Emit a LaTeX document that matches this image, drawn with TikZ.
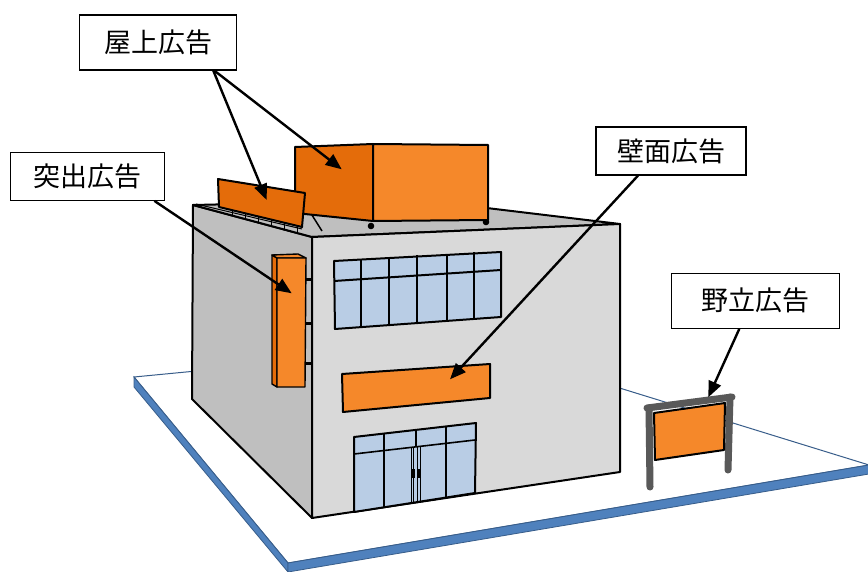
\documentclass[tikz,border=0pt]{standalone}
\usepackage{fontspec}
\newfontfamily\jp{Noto Sans CJK JP}
\usetikzlibrary{arrows.meta}
\definecolor{orA}{HTML}{F5882A}
\definecolor{orB}{HTML}{E46C0A}
\definecolor{gA}{HTML}{BFBFBF}
\definecolor{gB}{HTML}{D9D9D9}
\definecolor{glass}{HTML}{B9CDE5}
\definecolor{band}{HTML}{4F81BD}
\definecolor{bandline}{HTML}{385D8A}
\definecolor{post}{HTML}{595959}
\begin{document}
\begin{tikzpicture}[x=1pt,y=-1pt,
 edge/.style={draw=black,line width=2pt,line join=round},
 thinedge/.style={draw=black,line width=1.4pt,line join=round},
 tag/.style={draw=black,line width=1.2pt,fill=white,font=\jp\fontsize{27}{27}\selectfont,inner sep=0pt},
 pointer/.style={draw=black,line width=2.4pt,-{Triangle[length=16pt,width=13pt]}},
 postline/.style={draw=post,line width=7pt,line cap=round}]
\useasboundingbox (0,0) rectangle (868,572);
\clip (0,0) rectangle (868,572);

% platform
\filldraw[fill=white,draw=bandline,line width=1pt] (134,377) -- (477,344) -- (869,465) -- (288,563) -- cycle;
\filldraw[fill=band,draw=bandline,line width=0.8pt] (134,377) -- (288,563) -- (288,572) -- (134,387) -- cycle;
\filldraw[fill=band,draw=bandline,line width=0.8pt] (288,563) -- (869,465) -- (869,474) -- (288,572) -- cycle;

% billboard
\draw[postline] (649,408) -- (650,487);
\draw[postline] (730,397) -- (728,470);
\draw[postline] (647,408) -- (732,397);
\filldraw[fill=orA,edge] (654,413) -- (725,403) -- (724,450) -- (655,460) -- cycle;

% building
\filldraw[fill=gA,edge] (193,205) -- (312,237) -- (312,518) -- (192,399) -- cycle;
\filldraw[fill=gA,edge] (193,205) -- (420,200) -- (620,224) -- (312,237) -- cycle;
\filldraw[fill=gB,edge] (312,237) -- (620,224) -- (620,472) -- (312,518) -- cycle;

% strut
\draw[line width=1.5pt] (305,204) -- (322,231);

% big rooftop box
\fill (371,226) circle (3.3);
\fill (486,222) circle (3.3);
\filldraw[fill=orB,edge] (295,147) -- (373,144) -- (373,221) -- (295,213) -- cycle;
\filldraw[fill=orA,edge] (373,144) -- (488,145) -- (488,220) -- (373,221) -- cycle;

% small rooftop sign with base
\draw[line width=1pt] (196,204) -- (302,229);
\foreach \x/\a/\b in {232/210.1/215.5,245/213.3/219,258/216.4/222.5,271/219.5/226,284/222.7/229.5,297/225.8/233}
  \draw[line width=1pt] (\x,\a) -- (\x,\b);
\filldraw[fill=orB,edge] (218,179) -- (305,193) -- (302,227) -- (219,207) -- cycle;

% protruding sign
\foreach \y in {280,323,363} \draw[line width=3pt] (304,\y) -- (312,\y);
\filldraw[fill=orB,thinedge] (272,255) -- (277,258) -- (277,387) -- (272,384) -- cycle;
\filldraw[fill=orA,thinedge] (272,255) -- (298,254) -- (306,258) -- (277,258) -- cycle;
\filldraw[fill=orA,thinedge] (277,258) -- (306,258) -- (305,387) -- (277,387) -- cycle;

% upper windows
\filldraw[fill=glass,edge] (334,261) -- (501,252) -- (501,317) -- (335,329) -- cycle;
\draw[line width=2pt] (334,281) -- (501,270);
\foreach \x/\a/\b in {361/259.5/327.1,389/258/325.1,417/255/323.1,447/254.9/320.9,474/252/319}
  \draw[line width=2pt] (\x,\a) -- (\x,\b);

% wall sign
\filldraw[fill=orA,edge] (342,374) -- (490,364) -- (490,398) -- (343,412) -- cycle;

% doors
\filldraw[fill=glass,edge] (354,437) -- (476,423) -- (475,493) -- (354,512) -- cycle;
\draw[line width=1.6pt] (354,454) -- (475,440);
\draw[line width=1.6pt] (384,433.6) -- (384,507.3);
\draw[line width=1.6pt] (446,426.4) -- (446,497.6);
\draw[line width=1.6pt] (416,429.9) -- (416,446.8);
\foreach \x/\a/\b in {411.5/447.3/503,413.8/447/502.6,417.8/446.6/502,420/446.3/501.6}
  \draw[line width=1pt] (\x,\a) -- (\x,\b);
\fill (411,469) rectangle (414.5,478);
\fill (417,469) rectangle (420.5,478);

% labels
\node[tag,minimum width=157pt,minimum height=55pt] (roof) at (158.3,42.5) {屋上広告};
\node[tag,minimum width=154pt,minimum height=48pt] (jut) at (87.8,176.3) {突出広告};
\node[tag,minimum width=150pt,minimum height=48pt] (wall) at (671,151) {壁面広告};
\node[tag,minimum width=168pt,minimum height=55pt] (field) at (755.8,300.8) {野立広告};

\coordinate (t1) at (266.7,200);
\coordinate (t2) at (341.7,169.3);
\coordinate (t3) at (291.7,293.3);
\coordinate (t4) at (450,379.3);
\coordinate (t5) at (708.3,397.3);

\draw[pointer] ([xshift=55pt]roof.south) -- (t1);
\draw[pointer] ([xshift=56pt]roof.south) -- (t2);
\draw[pointer] ([xshift=-11pt]jut.south east) -- (t3);
\draw[pointer] ([xshift=-33pt]wall.south) -- (t4);
\draw[pointer] ([xshift=-16.5pt]field.south) -- (t5);
\end{tikzpicture}
\end{document}
